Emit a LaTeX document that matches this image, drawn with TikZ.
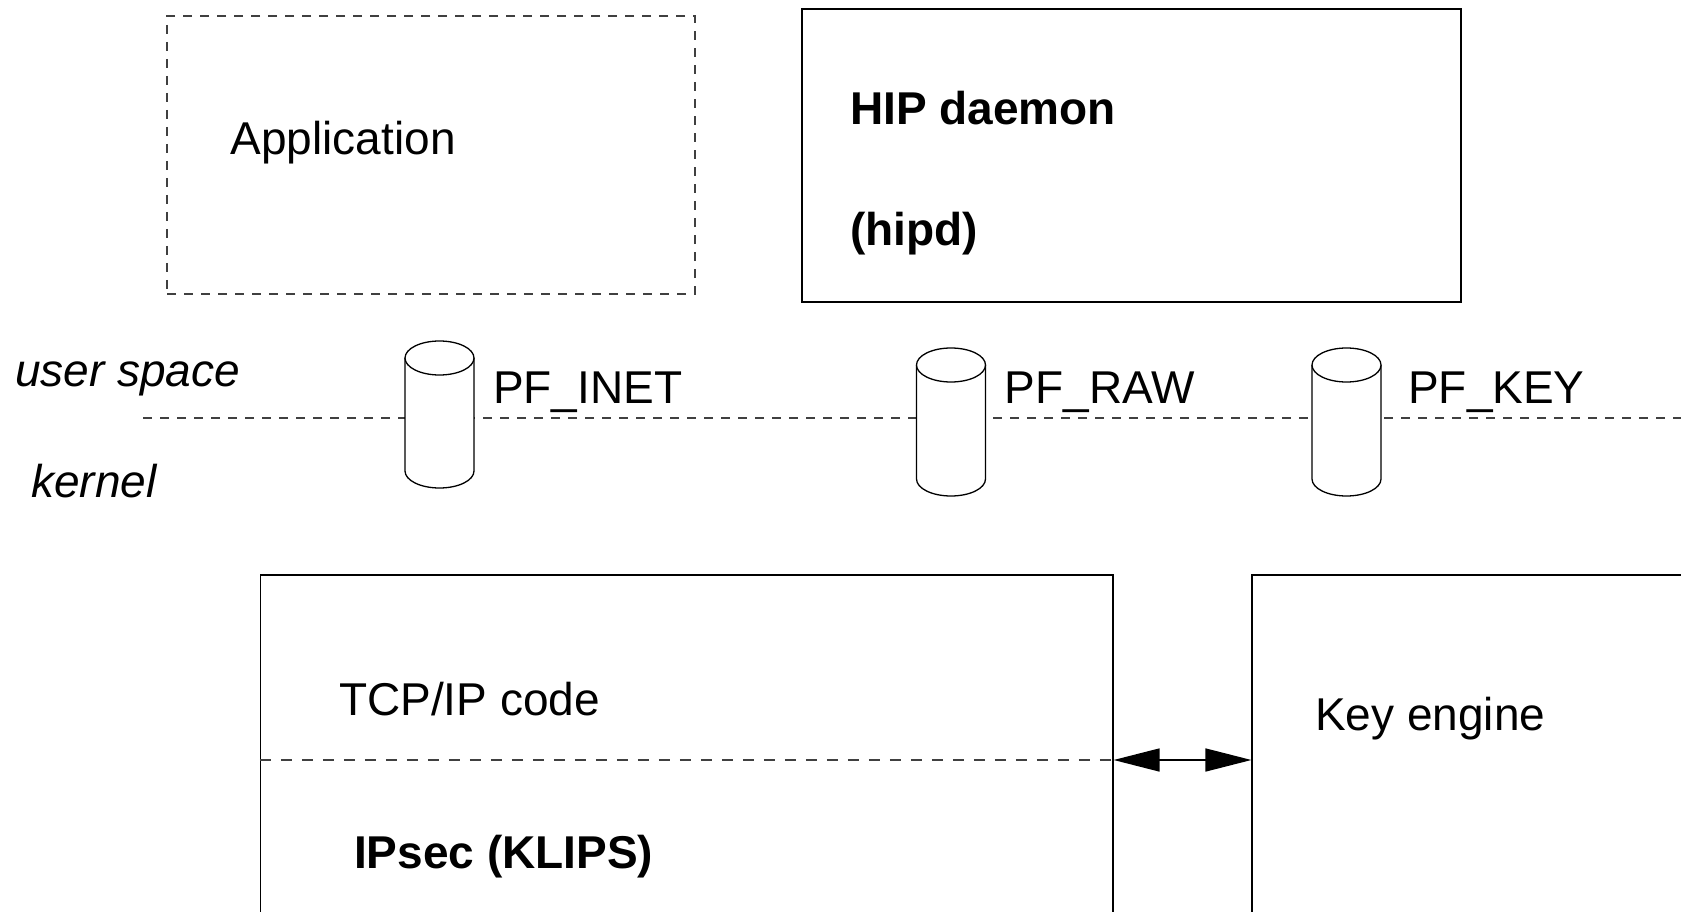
\documentclass[tikz,border=0pt]{standalone}
\usepackage{fontspec}
\setmainfont{Liberation Sans}
\usetikzlibrary{arrows.meta}
\tikzset{
  txt/.style={anchor=base west, inner sep=0pt, font=\fontsize{46}{55}\selectfont},
  btxt/.style={txt, font=\fontsize{46}{55}\selectfont\bfseries},
  itxt/.style={txt, font=\fontsize{46}{55}\selectfont\itshape},
  box/.style={draw, rectangle, inner sep=0pt, line width=1.2pt},
  dashbox/.style={box, draw=black!75, dash pattern=on 9pt off 8pt},
  sepline/.style={draw=black!75, line width=1.2pt, dash pattern=on 9pt off 8pt},
  longsep/.style={sepline, dash pattern=on 11pt off 10pt},
  socket/.style={draw, fill=white, line width=1.3pt},
  dblarrow/.style={line width=1.6pt, {Triangle[length=46pt,width=23pt]}-{Triangle[length=46pt,width=23pt]}}
}
% cylinder: #1 centre x, #2 top ellipse centre y, #3 bottom ellipse centre y
\newcommand{\socketcyl}[3]{%
  \path[socket] (#1-34.5,#2) -- (#1-34.5,#3)
    arc[start angle=180, end angle=360, x radius=34.5, y radius=17]
    -- (#1+34.5,#2);
  \path[socket] (#1,#2) ellipse[x radius=34.5, y radius=17];
}
\begin{document}
\begin{tikzpicture}[x=1pt,y=1pt]
\useasboundingbox (0,0) rectangle (1681,-912);
\clip (0,0) rectangle (1681,-912);

% user space
\node[dashbox, minimum width=528pt, minimum height=278pt] (app) at (431,-155) {};
\node[txt] (apptxt) at (230.5,-155) {Application};

\node[box, line width=2.4pt, minimum width=659pt, minimum height=293pt] (hip) at (1131.5,-155.5) {};
\node[btxt] (hiptxt) at (850,-125) {HIP daemon};
\node[btxt] (hipdtxt) at (850,-245) {(hipd)};

% user/kernel boundary
\coordinate (divL) at (143,-418);
\coordinate (divR) at (1681,-418);
\draw[sepline] (divL) -- (divR);
\node[itxt] (user) at (15,-386) {user space};
\node[itxt] (kern) at (31,-497) {kernel};

% sockets
\coordinate (inet) at (439.5,-358);
\coordinate (raw) at (951,-365);
\coordinate (keysock) at (1346.5,-365);
\socketcyl{439.5}{-358}{-471}
\socketcyl{951}{-365}{-479}
\socketcyl{1346.5}{-365}{-479}
\node[txt] (inetlbl) at (493,-403) {PF\_INET};
\node[txt] (rawlbl) at (1004.5,-403) {PF\_RAW};
\node[txt] (keylbl) at (1408,-403) {PF\_KEY};

% kernel
\node[box, minimum width=852.5pt, minimum height=425pt] (tcp) at (686.75,-787.5) {};
\node[box, minimum width=548pt, minimum height=425pt] (keng) at (1526,-787.5) {};
\coordinate (split) at (0,-760);
\draw[longsep] (tcp.west |- split) -- (tcp.east |- split);
\draw[dblarrow] (tcp.east |- split) -- (keng.west |- split);
\node[txt] (tcptxt) at (339,-715) {TCP/IP code};
\node[btxt] (ipsectxt) at (354,-868) {IPsec (KLIPS)};
\node[txt] (kengtxt) at (1315,-730) {Key engine};
\end{tikzpicture}
\end{document}
